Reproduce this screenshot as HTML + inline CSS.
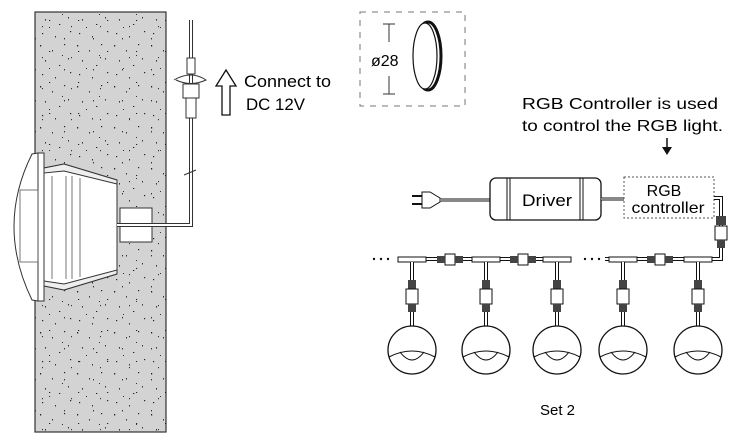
<!DOCTYPE html>
<html><head><style>html,body{margin:0;padding:0;background:#fff;width:734px;height:443px;overflow:hidden}</style></head>
<body>
<svg width="734" height="443" viewBox="0 0 734 443" xmlns="http://www.w3.org/2000/svg" font-family="Liberation Sans, sans-serif">
<defs>
<pattern id="sp" width="37" height="41" patternUnits="userSpaceOnUse">
<rect x="3" y="4" width="1.2" height="1.5" fill="#222"/><rect x="15" y="9" width="1" height="1.5" fill="#333"/>
<rect x="27" y="3" width="1.2" height="1.2" fill="#222"/><rect x="8" y="19" width="1" height="1.6" fill="#333"/>
<rect x="22" y="24" width="1.3" height="1" fill="#222"/><rect x="31" y="17" width="1" height="1.5" fill="#333"/>
<rect x="5" y="33" width="1.2" height="1.2" fill="#222"/><rect x="18" y="36" width="1" height="1.5" fill="#333"/>
<rect x="33" y="31" width="1.2" height="1.2" fill="#222"/><rect x="12" y="27" width="1" height="1" fill="#333"/>
<rect x="25" y="14" width="1" height="1" fill="#333"/>
</pattern>
<pattern id="sp2" width="29" height="31" patternUnits="userSpaceOnUse">
<rect x="6" y="7" width="1" height="1.4" fill="#333"/><rect x="20" y="20" width="1.2" height="1" fill="#222"/>
<rect x="13" y="26" width="1" height="1.2" fill="#333"/>
</pattern>
</defs>
<!-- wall -->
<rect x="35" y="12" width="131" height="420" fill="#d3d3d3" stroke="#333" stroke-width="1.2"/>
<rect x="35" y="12" width="131" height="420" fill="url(#sp)"/>
<rect x="35" y="12" width="131" height="420" fill="url(#sp2)"/>
<!-- lamp -->
<path d="M38,153 L32,154 Q-4,226 32,300 L38,301 Z" fill="#fff" stroke="#333" stroke-width="1"/>
<rect x="38" y="153" width="6" height="148" fill="#fff" stroke="#333" stroke-width="1"/>
<rect x="20" y="190" width="18" height="72" fill="none" stroke="#555" stroke-width="0.8"/>
<polygon points="44,168 64,164 117,180 117,274 64,290 44,286" fill="#fff" stroke="#333" stroke-width="1"/>
<polygon points="44,168 64,164 117,180 117,184 64,171 44,173" fill="#eee" stroke="#333" stroke-width="1"/>
<polygon points="44,281 64,284 117,270 117,274 64,290 44,286" fill="#eee" stroke="#333" stroke-width="1"/>
<line x1="52" y1="176" x2="52" y2="279" stroke="#555" stroke-width="0.8"/>
<line x1="66" y1="176" x2="66" y2="279" stroke="#555" stroke-width="0.8"/>
<line x1="72" y1="176" x2="72" y2="279" stroke="#555" stroke-width="0.8"/>
<line x1="80" y1="178" x2="80" y2="277" stroke="#555" stroke-width="0.8"/>
<rect x="120" y="208" width="32" height="34" fill="#fff" stroke="#333" stroke-width="1"/>
<!-- cable -->
<path d="M117,225 L191,225 L191,20" fill="none" stroke="#333" stroke-width="4"/>
<path d="M117,225 L191,225 L191,20" fill="none" stroke="#fff" stroke-width="2"/>
<rect x="187" y="58" width="8" height="16" fill="#fff" stroke="#333"/>
<rect x="183" y="84" width="16" height="14" fill="#fff" stroke="#333"/>
<rect x="186" y="98" width="10" height="20" fill="#fff" stroke="#333"/>
<path d="M174,80 Q191,70 206,80 Q191,87 176,80" fill="none" stroke="#333" stroke-width="1"/>
<line x1="184" y1="175" x2="196" y2="170" stroke="#333"/>
<!-- arrow up -->
<polygon points="226,70 236,86 230,86 230,115 222,115 222,86 216,86" fill="#fff" stroke="#111" stroke-width="1.3"/>
<text x="244" y="87" font-size="17" textLength="87" lengthAdjust="spacingAndGlyphs">Connect to</text>
<text x="246" y="110" font-size="17" textLength="59" lengthAdjust="spacingAndGlyphs">DC 12V</text>
<!-- ø28 -->
<rect x="360" y="12" width="105" height="94" fill="none" stroke="#777" stroke-dasharray="6,6"/>
<line x1="383" y1="24" x2="395" y2="24" stroke="#333"/><line x1="389" y1="24" x2="389" y2="42" stroke="#333"/>
<line x1="383" y1="94" x2="395" y2="94" stroke="#333"/><line x1="389" y1="76" x2="389" y2="94" stroke="#333"/>
<text x="371" y="66" font-size="16">ø28</text>
<ellipse cx="428" cy="56" rx="13" ry="34" fill="none" stroke="#111" stroke-width="3"/>
<ellipse cx="425" cy="56" rx="12" ry="33" fill="#fff" stroke="#111" stroke-width="1.2"/>
<!-- text -->
<text x="522" y="109" font-size="16" textLength="196" lengthAdjust="spacingAndGlyphs">RGB Controller is used</text>
<text x="522" y="131" font-size="16" textLength="201" lengthAdjust="spacingAndGlyphs">to control the RGB light.</text>
<line x1="667" y1="138" x2="667" y2="148" stroke="#111" stroke-width="1.5"/>
<polygon points="662,147 672,147 667,155" fill="#111"/>
<!-- plug -->
<line x1="412" y1="196" x2="422" y2="196" stroke="#111" stroke-width="2"/>
<line x1="412" y1="204" x2="422" y2="204" stroke="#111" stroke-width="2"/>
<path d="M422,192 L430,192 L440,198 L440,202 L430,208 L422,208 Z" fill="#fff" stroke="#111"/>
<path d="M440,200 L490,200" stroke="#111" stroke-width="3"/><path d="M440,200 L490,200" stroke="#fff" stroke-width="1"/>
<!-- driver -->
<rect x="490" y="178" width="111" height="42" rx="6" fill="#fff" stroke="#111" stroke-width="1.3"/>
<line x1="507" y1="178" x2="507" y2="220" stroke="#111"/><line x1="510" y1="178" x2="510" y2="220" stroke="#111"/>
<line x1="580" y1="178" x2="580" y2="220" stroke="#111"/><line x1="583" y1="178" x2="583" y2="220" stroke="#111"/>
<text x="522" y="206" font-size="17" textLength="50" lengthAdjust="spacingAndGlyphs">Driver</text>
<path d="M601,199 L624,199" stroke="#111" stroke-width="3"/><path d="M601,199 L624,199" stroke="#fff" stroke-width="1"/>
<rect x="624" y="177" width="90" height="41" fill="none" stroke="#555" stroke-dasharray="2,2"/>
<text x="664" y="196" font-size="16" text-anchor="middle">RGB</text>
<text x="668" y="213" font-size="16" text-anchor="middle" textLength="73" lengthAdjust="spacingAndGlyphs">controller</text>
<!-- right drop -->
<path d="M714,198 L721,198 L721,259 L360,259" fill="none" stroke="#111" stroke-width="4"/>
<path d="M714,198 L721,198 L721,259 L400,259" fill="none" stroke="#fff" stroke-width="2"/>
<rect x="716" y="216" width="10" height="9" fill="#444"/>
<rect x="715" y="226" width="12" height="14" fill="#fff" stroke="#111"/>
<rect x="717" y="240" width="8" height="8" fill="#444"/>
<rect x="360" y="255" width="40" height="8" fill="#fff"/>
<rect x="570" y="255" width="35" height="8" fill="#fff"/>
<g fill="#111"><circle cx="374" cy="259" r="1.2"/><circle cx="381" cy="259" r="1.2"/><circle cx="388" cy="259" r="1.2"/>
<circle cx="585" cy="259" r="1.2"/><circle cx="592" cy="259" r="1.2"/><circle cx="599" cy="259" r="1.2"/></g>
<!-- inline connectors -->
<g fill="#fff" stroke="#111">
<rect x="445" y="254" width="10" height="11"/><rect x="518" y="254" width="10" height="11"/><rect x="655" y="254" width="10" height="11"/>
</g>
<g fill="#444"><rect x="437" y="256" width="8" height="7"/><rect x="455" y="256" width="8" height="7"/>
<rect x="510" y="256" width="8" height="7"/><rect x="528" y="256" width="8" height="7"/>
<rect x="647" y="256" width="8" height="7"/><rect x="665" y="256" width="8" height="7"/></g>
<!-- lamps -->
<g id="L">
<rect x="398" y="257" width="28" height="5" fill="#fff" stroke="#111"/>
<path d="M412,262 L412,327" stroke="#111" stroke-width="4"/><path d="M412,262 L412,327" stroke="#fff" stroke-width="2"/>
<rect x="408" y="280" width="8" height="9" fill="#444"/>
<rect x="406" y="289" width="12" height="15" fill="#fff" stroke="#111"/>
<rect x="408" y="304" width="8" height="8" fill="#444"/>
<circle cx="412" cy="350" r="24" fill="#fff" stroke="#111" stroke-width="1.3"/>
<path d="M389,357 Q412,345 435,357" fill="none" stroke="#111"/>
<path d="M400,352 Q412,368 424,352" fill="none" stroke="#111"/>
</g>
<use href="#L" x="74"/><use href="#L" x="145"/><use href="#L" x="211"/><use href="#L" x="286"/>
<text x="540" y="415" font-size="15">Set 2</text>
</svg>
</body></html>
